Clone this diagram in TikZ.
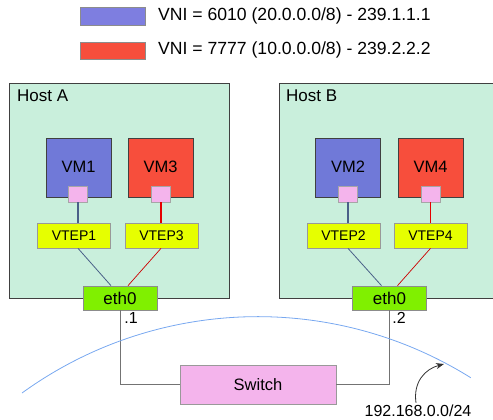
\documentclass[tikz,border=0pt]{standalone}
\usepackage{fontspec}
\setmainfont{Liberation Sans}
\usetikzlibrary{calc,arrows.meta}
\definecolor{hostfill}{HTML}{C9EFDC}
\definecolor{vmblue}{HTML}{7079D8}
\definecolor{lgblue}{HTML}{7E7EE0}
\definecolor{vmred}{HTML}{F74E3C}
\definecolor{portpink}{HTML}{F4B4EC}
\definecolor{vtepyel}{HTML}{E6FF00}
\definecolor{ethgreen}{HTML}{80F000}
\definecolor{arcblue}{HTML}{78A8F0}
\definecolor{slate}{HTML}{4A6088}
\tikzset{
  host/.style={draw=black!75,line width=1pt,fill=hostfill},
  vm/.style={draw=black!75,line width=0.9pt,minimum width=65pt,minimum height=59pt,inner sep=0pt,font=\fontsize{16.5}{19}\selectfont},
  port/.style={draw=black!35,fill=portpink,line width=0.7pt,minimum width=19pt,minimum height=16pt,inner sep=0pt},
  vtep/.style={draw=black!40,fill=vtepyel,line width=0.7pt,minimum width=73pt,minimum height=25pt,inner sep=0pt,font=\fontsize{14}{16}\selectfont},
  eth/.style={draw=black!45,fill=ethgreen,line width=0.7pt,minimum width=74pt,minimum height=24pt,inner sep=0pt,font=\fontsize{17}{19}\selectfont},
  sw/.style={draw=black!40,fill=portpink,line width=0.8pt,minimum width=156pt,minimum height=39pt,inner sep=0pt,font=\fontsize{16.5}{19}\selectfont},
  txt/.style={inner sep=0pt,font=\fontsize{17}{20}\selectfont},
  lgbox/.style={draw=black!45,line width=0.7pt},
  wire/.style={draw=black!55,line width=1pt},
}
\begin{document}
\begin{tikzpicture}[x=1pt,y=-1pt]
\clip (0,0) rectangle (493,420);
% legend
\node[lgbox,fill=lgblue,minimum width=65pt,minimum height=18pt,inner sep=0pt,anchor=north west] (lg1) at (80,7) {};
\node[lgbox,fill=vmred,minimum width=65pt,minimum height=17pt,inner sep=0pt,anchor=north west] (lg2) at (80,42) {};
\node[txt,font=\fontsize{17.6}{20}\selectfont,anchor=west] (lt1) at (158,15.5) {VNI = 6010 (20.0.0.0/8) - 239.1.1.1};
\node[txt,font=\fontsize{17.6}{20}\selectfont,anchor=west] (lt2) at (158,50) {VNI = 7777 (10.0.0.0/8) - 239.2.2.2};
% hosts
\path[host] (9,84) rectangle (229,298);
\path[host] (279,84) rectangle (500,298);
\node[txt,anchor=west] (hA) at (17,96) {Host A};
\node[txt,anchor=west] (hB) at (286,96) {Host B};
% VMs
\node[vm,fill=vmblue] (vm1) at (78.5,167.5) {\raisebox{1pt}{VM1}};
\node[vm,fill=vmred] (vm3) at (160.5,167.5) {\raisebox{1pt}{VM3}};
\node[vm,fill=vmblue] (vm2) at (348,167.5) {\raisebox{1pt}{VM2}};
\node[vm,fill=vmred] (vm4) at (430.5,167.5) {\raisebox{1pt}{VM4}};
\node[port] (p1) at (78,194) {};
\node[port] (p3) at (161,194) {};
\node[port] (p2) at (348,194) {};
\node[port] (p4) at (430.5,194) {};
% VTEPs
\node[vtep] (vt1) at (74,235.5) {VTEP1};
\node[vtep] (vt3) at (161.5,235.5) {VTEP3};
\node[vtep] (vt2) at (343.5,235.5) {VTEP2};
\node[vtep] (vt4) at (430.5,235.5) {VTEP4};
% eth0
\node[eth] (ethA) at (120,298) {eth0};
\node[eth] (ethB) at (389.5,298) {eth0};
% port -> vtep
\draw[slate,line width=1.1pt] (p1.south) -- (p1.south |- vt1.north);
\draw[red!90!black,line width=1.6pt] (p3.south) -- (p3.south |- vt3.north);
\draw[slate,line width=1.1pt] (p2.south) -- (p2.south |- vt2.north);
\draw[red!90!black,line width=1.6pt] (p4.south) -- (p4.south |- vt4.north);
% vtep -> eth0
\draw[slate,line width=0.8pt] (p1.south |- vt1.south) -- ($(ethA.north)+(-9,0)$);
\draw[red!80!black,line width=0.7pt] (p3.south |- vt3.south) -- ($(ethA.north)+(8,0)$);
\draw[slate,line width=0.8pt] (p2.south |- vt2.south) -- ($(ethB.north)+(-8,0)$);
\draw[red!80!black,line width=0.7pt] (p4.south |- vt4.south) -- ($(ethB.north)+(8,0)$);
% switch
\node[sw] (sw) at (258,384.5) {Switch};
\draw[wire] (ethA.south) |- (sw.west);
\draw[wire] (ethB.south) |- (sw.east);
\node[txt,font=\fontsize{16}{18}\selectfont] (d1) at (131,318) {.1};
\node[txt,font=\fontsize{16}{18}\selectfont] (d2) at (399,318) {.2};
% network arc
\draw[arcblue,line width=0.8pt] (22,393) arc[start angle=-125.9,end angle=-58,radius=402];
\node[txt,font=\fontsize{16}{18}\selectfont] (net) at (418,411) {192.168.0.0/24};
\coordinate (tip) at (444,364);
\draw[black!80,line width=0.8pt,-{Stealth[length=8pt,width=6pt]}] ($(net.north)+(-2,-2)$) .. controls (413,382) and (425,369) .. (tip);
\end{tikzpicture}
\end{document}
